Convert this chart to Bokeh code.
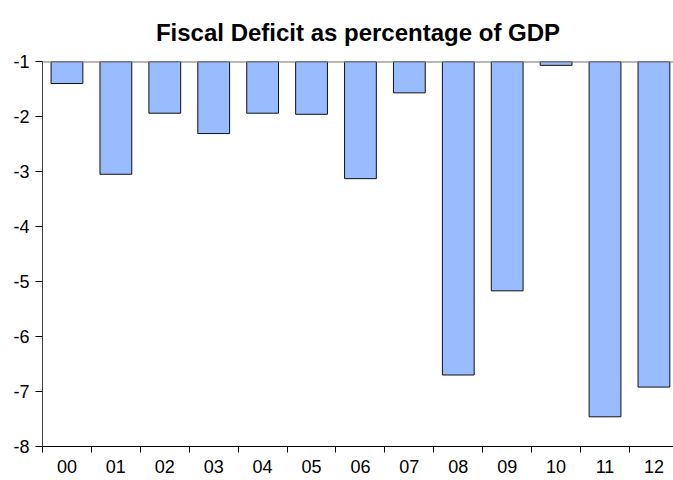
from bokeh.plotting import figure
from bokeh.models import Range1d, FixedTicker, Span, Title
from bokeh.embed import file_html
from bokeh.resources import INLINE

years = ["00", "01", "02", "03", "04", "05", "06", "07", "08", "09", "10", "11", "12"]
deficits = [-1.40, -3.05, -1.94, -2.31, -1.94, -1.96, -3.13, -1.57, -6.70, -5.17, -1.07, -7.46, -6.92]
y_ticks = [-8, -7, -6, -5, -4, -3, -2, -1]
y_tick_labels = ["-8", "-7", "-6", "-5", "-4", "-3", "-2", "-1"]
baseline = -1

xs = list(range(len(years)))

p = figure(width=673, height=478, output_backend="svg", toolbar_location=None,
           x_range=Range1d(-0.5, 12.4), y_range=Range1d(-8, -1))
p.add_layout(Title(text="Fiscal Deficit as percentage of GDP", align="center",
                   text_font="Liberation Sans", text_font_size="24px",
                   text_font_style="bold", text_color="black",
                   standoff=32, offset=3), "above")
p.min_border_left = 42
p.min_border_right = 0
p.min_border_top = 61
p.min_border_bottom = 32
p.outline_line_color = None
p.background_fill_color = "white"
p.border_fill_color = "white"
p.xgrid.visible = False
p.ygrid.visible = False

p.vbar(x=xs, top=[baseline] * len(xs), bottom=deficits, width=0.65,
       fill_color="#99BBFF", line_color="#111111", line_width=1)

p.add_layout(Span(location=baseline, dimension="width", line_color="#707070", line_width=2))

xa = p.xaxis[0]
xa.ticker = FixedTicker(ticks=xs, minor_ticks=[i - 0.5 for i in xs])
xa.major_label_overrides = {i: y for i, y in zip(xs, years)}
xa.major_tick_out = 0
xa.major_tick_in = 0
xa.minor_tick_out = 6
xa.minor_tick_in = 0
xa.minor_tick_line_color = "black"
xa.axis_line_color = "black"
xa.major_label_text_font = "Liberation Sans"
xa.major_label_text_font_size = "18px"
xa.major_label_text_color = "black"
xa.major_label_standoff = 7

ya = p.yaxis[0]
ya.ticker = FixedTicker(ticks=y_ticks, minor_ticks=[])
ya.major_label_overrides = {t: s for t, s in zip(y_ticks, y_tick_labels)}
ya.major_tick_out = 7
ya.major_tick_in = 0
ya.major_tick_line_color = "black"
ya.axis_line_color = "#404040"
ya.major_label_text_font = "Liberation Sans"
ya.major_label_text_font_size = "18px"
ya.major_label_text_color = "black"
ya.major_label_standoff = 6

open("out.html", "w").write(file_html(p, INLINE))
